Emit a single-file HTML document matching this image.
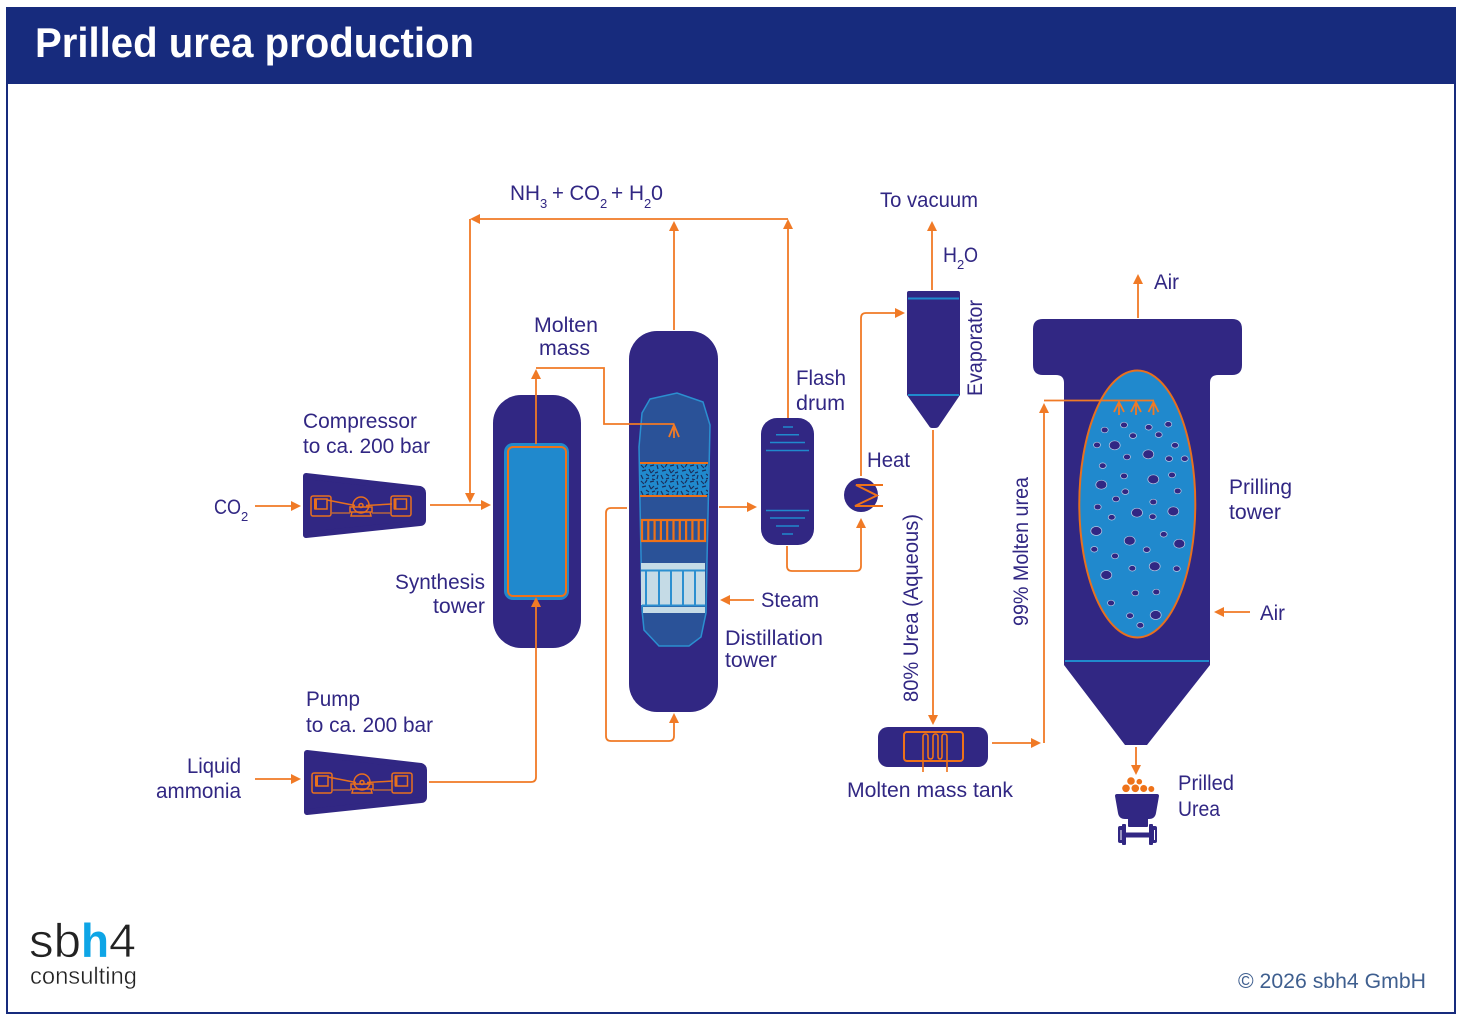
<!DOCTYPE html>
<html><head><meta charset="utf-8"><title>Prilled urea production</title>
<style>
html,body{margin:0;padding:0;background:#fff}
svg{display:block}
text{font-family:"Liberation Sans",sans-serif;font-size:21px;fill:#312783}
.s{font-size:13px}
.l{fill:none;stroke:#f07a26;stroke-width:1.8}
.a{fill:#f07a26;stroke:none}
.o{fill:none;stroke:#ee7219;stroke-width:2}
.b{fill:none;stroke:#2089cd;stroke-width:2}
</style></head><body>
<svg width="1462" height="1021" viewBox="0 0 1462 1021" xmlns="http://www.w3.org/2000/svg">
<defs>
<pattern id="pk" width="20" height="16" patternUnits="userSpaceOnUse">
<rect width="20" height="16" fill="#2089cd"/>
<path d="M1 1l3 3M7 0l-2 3M10 2l4-1M17 1l1 4M2 7l4-1M9 5l2 4M14 6l-3 3M18 8l-3 1M1 11l2 4M6 10l3 2M12 12l3-1M18 11l-1 4M6 15l3-1M12 15l3 1" stroke="#1b2f5c" stroke-width="1.200"/>
</pattern>
<g id="comp">
<path d="M306 476L420 489Q423 490 423 493V520Q423 523 420 523L306 535Z" fill="#312783" stroke="#312783" stroke-width="6" stroke-linejoin="round"/>
<g fill="none" stroke="#e8701e" stroke-width="1.500">
<rect x="311" y="496" width="20" height="20" rx="2"/>
<rect x="391" y="496" width="20" height="20" rx="2"/>
<rect x="315" y="499" width="12" height="10"/>
<rect x="394.500" y="499" width="12" height="10"/>
<circle cx="361" cy="505" r="8"/>
<circle cx="361" cy="505.500" r="2"/>
<path d="M327 500L355 505.500M366 505.500L392 504M350 507H372V512H350ZM352 512L351 516H371L370 512"/>
</g>
<path d="M331 513H350M372 513H391" stroke="#b5673f" stroke-width="1.500" fill="none"/>
<rect x="314" y="499" width="3" height="10" fill="#e8701e"/>
<rect x="393.500" y="499" width="3" height="10" fill="#e8701e"/>
</g>
</defs>

<rect width="1462" height="1021" fill="#fff"/>
<rect x="7" y="8" width="1448" height="1005" fill="#fff" stroke="#172b7d" stroke-width="2"/>
<rect x="6" y="7" width="1450" height="77" fill="#172b7d"/>
<text x="35" y="57" style="font-size:42px;font-weight:bold;fill:#fff" textLength="439" lengthAdjust="spacingAndGlyphs">Prilled urea production</text>

<!-- equipment -->
<rect x="493" y="395" width="88" height="253" rx="28" fill="#312783"/>
<rect x="504" y="443" width="65" height="157" rx="9" fill="#2089cd"/>
<rect x="508" y="447" width="58" height="149" rx="5" fill="#2089cd" stroke="#ee7219" stroke-width="2"/>

<rect x="629" y="331" width="89" height="381" rx="28" fill="#312783"/>
<polygon points="650,399 677,393 703,402 710,425 707,560 706,613 701,637 689,646 659,646 644,630 642,610 639,447 642,413" fill="#2a5298" stroke="#2b8fd0" stroke-width="1.500"/>
<rect x="640" y="464" width="68" height="32" fill="url(#pk)"/>
<path class="o" d="M640 463H708M640 496H707"/>
<rect x="642" y="520" width="63" height="21" fill="none" stroke="#ee7219" stroke-width="2.200"/>
<path stroke="#ee7219" stroke-width="2.200" d="M648.300 520V541M654.600 520V541M660.900 520V541M667.200 520V541M673.500 520V541M679.800 520V541M686.100 520V541M692.400 520V541M698.700 520V541"/>
<rect x="641" y="563" width="64" height="7" fill="#c5dbe6"/>
<rect x="641" y="571" width="64" height="34" fill="#c5dbe6"/>
<rect x="643" y="607" width="62" height="6" fill="#c5dbe6"/>
<path stroke="#2b8fd0" stroke-width="2" d="M641 570.500H705M646 571V605M659 571V605M671 571V605M683 571V605M695 571V605M642 605.500H705"/>

<rect x="761" y="418" width="53" height="127" rx="16" fill="#312783"/>
<path class="b" style="stroke-width:1.500" d="M783 427H793M776 434.700H799M770 442.500H805M766 450.500H809M766 510.500H809M770 518H805M776 526H799M782 534H793"/>

<circle cx="861" cy="495" r="17" fill="#312783"/>

<path d="M907 293Q907 291 909 291H958Q960 291 960 293V395L939 426Q938 428 935 428H932Q930 428 929 426L907 395Z" fill="#312783"/>
<path class="b" d="M908 298.500H959M908 395H959"/>

<rect x="878" y="727" width="110" height="40" rx="10" fill="#312783"/>
<rect x="904" y="732" width="59" height="29" rx="3" class="o"/>

<path d="M1043 319H1232Q1242 319 1242 329V365Q1242 375 1232 375H1218Q1210 375 1210 383V665L1147 745H1125L1064 665V383Q1064 375 1056 375H1043Q1033 375 1033 365V329Q1033 319 1043 319Z" fill="#312783"/>
<path class="b" d="M1065 661H1209"/>
<ellipse cx="1137.300" cy="504" rx="58" ry="133.500" fill="#2089cd" stroke="#e8701e" stroke-width="2"/>
<g fill="#312783" stroke="#b9c8e4" stroke-width="0.700">
<ellipse cx="1104.700" cy="430" rx="3.500" ry="2.800"/><ellipse cx="1124" cy="425" rx="3.500" ry="2.800"/><ellipse cx="1148.700" cy="427.300" rx="3.500" ry="2.800"/><ellipse cx="1168.300" cy="424.300" rx="3.500" ry="2.800"/><ellipse cx="1133" cy="435.700" rx="3.500" ry="2.800"/><ellipse cx="1158.700" cy="434.700" rx="3.500" ry="2.800"/><ellipse cx="1097" cy="445" rx="3.500" ry="2.800"/><ellipse cx="1114.700" cy="445.300" rx="5.500" ry="4.500"/><ellipse cx="1175" cy="445.300" rx="3.500" ry="2.800"/><ellipse cx="1127" cy="457" rx="3.500" ry="2.800"/><ellipse cx="1148.300" cy="454.300" rx="5.500" ry="4.500"/><ellipse cx="1169" cy="458.700" rx="3.500" ry="2.800"/><ellipse cx="1184.700" cy="458.700" rx="3.500" ry="2.800"/><ellipse cx="1102.700" cy="465.700" rx="3.500" ry="2.800"/><ellipse cx="1124" cy="476" rx="3.500" ry="2.800"/><ellipse cx="1172" cy="475" rx="3.500" ry="2.800"/><ellipse cx="1153.300" cy="479.300" rx="5.500" ry="4.500"/><ellipse cx="1101.300" cy="484.700" rx="5.500" ry="4.500"/><ellipse cx="1177.700" cy="491" rx="3.500" ry="2.800"/><ellipse cx="1125.300" cy="491.700" rx="3.500" ry="2.800"/><ellipse cx="1116" cy="499" rx="3.500" ry="2.800"/><ellipse cx="1153.300" cy="502" rx="3.500" ry="2.800"/><ellipse cx="1097.700" cy="507" rx="3.500" ry="2.800"/><ellipse cx="1111.700" cy="517.300" rx="3.500" ry="2.800"/><ellipse cx="1137" cy="512.700" rx="5.500" ry="4.500"/><ellipse cx="1152.700" cy="516.700" rx="3.500" ry="2.800"/><ellipse cx="1173.300" cy="511.300" rx="5.500" ry="4.500"/><ellipse cx="1096.300" cy="531" rx="5.500" ry="4.500"/><ellipse cx="1163.700" cy="534.300" rx="3.500" ry="2.800"/><ellipse cx="1129.700" cy="540.700" rx="5.500" ry="4.500"/><ellipse cx="1179.300" cy="543.700" rx="5.500" ry="4.500"/><ellipse cx="1094.300" cy="549.300" rx="3.500" ry="2.800"/><ellipse cx="1146.700" cy="549.700" rx="3.500" ry="2.800"/><ellipse cx="1115" cy="556" rx="3.500" ry="2.800"/><ellipse cx="1132.300" cy="568.300" rx="3.500" ry="2.800"/><ellipse cx="1154.700" cy="566.300" rx="5.500" ry="4.500"/><ellipse cx="1176.700" cy="568.700" rx="3.500" ry="2.800"/><ellipse cx="1106.300" cy="575" rx="5.500" ry="4.500"/><ellipse cx="1135.300" cy="593" rx="3.500" ry="2.800"/><ellipse cx="1156.300" cy="592" rx="3.500" ry="2.800"/><ellipse cx="1111" cy="603" rx="3.500" ry="2.800"/><ellipse cx="1130" cy="615.700" rx="3.500" ry="2.800"/><ellipse cx="1155.700" cy="615" rx="5.500" ry="4.500"/><ellipse cx="1140.300" cy="625.300" rx="3.500" ry="2.800"/>
</g>

<use href="#comp"/>
<use href="#comp" transform="translate(1 277)"/>

<!-- connectors (on top of equipment) -->
<path class="l" d="M255 506H293M430 505H483M788 219H478M470 219V495M674 330V230M788 418V228"/>
<path class="l" d="M536 444V378M536 368H604V424H674M674 438V425M669 437L674 425L679 437"/>
<path class="l" d="M255 779H293M429 782H531Q536 782 536 777V606"/>
<path class="l" d="M627 508H611Q606 508 606 513V736Q606 741 611 741H669Q674 741 674 736V722"/>
<path class="l" d="M719 507H749M754 600H729"/>
<path class="l" d="M787 546V566Q787 571 792 571H856Q861 571 861 566V526"/>
<path class="l" d="M861 476V318Q861 313 866 313H896"/>
<path class="l" d="M932 290V229M933 430V717"/>
<path class="l" d="M992 743H1033M1044 743V411M1138 318V283M1250 612H1223M1136 747V767"/>
<path class="l" d="M1044 400.500H1154M1119 415V402M1114 412L1119 402L1124 412M1136 415V402M1131 412L1136 402L1141 412M1153.500 415V402M1148.500 412L1153.500 402L1158.500 412"/>
<g class="a">
<polygon points="301,506 291,501 291,511"/>
<polygon points="491,505 481,500 481,510"/>
<polygon points="470,219 480,214 480,224"/>
<polygon points="470,503 465,493 475,493"/>
<polygon points="674,221 669,231 679,231"/>
<polygon points="788,219 783,229 793,229"/>
<polygon points="536,369 531,379 541,379"/>
<polygon points="301,779 291,774 291,784"/>
<polygon points="536,597 531,607 541,607"/>
<polygon points="674,713 669,723 679,723"/>
<polygon points="757,507 747,502 747,512"/>
<polygon points="720,600 730,595 730,605"/>
<polygon points="861,518 856,528 866,528"/>
<polygon points="905,313 895,308 895,318"/>
<polygon points="932,221 927,231 937,231"/>
<polygon points="933,725 928,715 938,715"/>
<polygon points="1041,743 1031,738 1031,748"/>
<polygon points="1044,403 1039,413 1049,413"/>
<polygon points="1138,274 1133,284 1143,284"/>
<polygon points="1214,612 1224,607 1224,617"/>
<polygon points="1136,775 1131,765 1141,765"/>
</g>

<!-- heat exchanger coil -->
<path class="o" d="M883 485H856L877 495.500L855 506H883"/>

<!-- tank coil -->
<path fill="none" stroke="#ee7219" stroke-width="1.600" d="M923 772V737Q923 734 925.500 734T928 737V756Q928 759 930.500 759T933 756V737Q933 734 935.500 734T938 737V756Q938 759 940 759T942 756V737Q942 734 944.500 734T947 737V772"/>

<!-- hopper -->
<g fill="#ee7219">
<circle cx="1131" cy="781" r="3.800"/><circle cx="1139.300" cy="781.700" r="2.800"/><circle cx="1126" cy="788.300" r="3.800"/><circle cx="1135.300" cy="788.300" r="3.800"/><circle cx="1143.700" cy="788.500" r="3.500"/><circle cx="1151.300" cy="789" r="3"/>
</g>
<path d="M1117 794H1157Q1159 794 1159 796L1156 813Q1155 819 1149 819H1148V826Q1148 827 1147 827H1129Q1128 827 1128 826V819H1125Q1119 819 1118 813L1115 796Q1115 794 1117 794Z" fill="#312783"/>
<g fill="#312783">
<rect x="1118" y="826" width="8" height="17" rx="2"/>
<rect x="1122" y="824" width="4" height="21" rx="1"/>
<rect x="1149" y="826" width="8" height="17" rx="2"/>
<rect x="1149" y="824" width="4" height="21" rx="1"/>
<rect x="1125" y="832.500" width="25" height="5"/>
</g>
<rect x="1120.500" y="830" width="1" height="10" fill="#fff"/>
<rect x="1154" y="830" width="1" height="10" fill="#fff"/>

<!-- labels -->
<text x="510" y="200" textLength="30" lengthAdjust="spacingAndGlyphs">NH</text><text x="540" y="208" class="s">3</text>
<text x="552" y="200" textLength="48" lengthAdjust="spacingAndGlyphs">+ CO</text><text x="600" y="208" class="s">2</text>
<text x="611" y="200" textLength="33" lengthAdjust="spacingAndGlyphs">+ H</text><text x="644" y="208" class="s">2</text>
<text x="651" y="200" textLength="12" lengthAdjust="spacingAndGlyphs">0</text>
<text x="880" y="207" textLength="98" lengthAdjust="spacingAndGlyphs">To vacuum</text>
<text x="943" y="262" textLength="14" lengthAdjust="spacingAndGlyphs">H</text><text x="957" y="269" class="s">2</text><text x="964" y="262" textLength="14" lengthAdjust="spacingAndGlyphs">O</text>
<text x="1154" y="289" textLength="25" lengthAdjust="spacingAndGlyphs">Air</text>
<text x="534" y="332" textLength="64" lengthAdjust="spacingAndGlyphs">Molten</text>
<text x="539" y="355" textLength="51" lengthAdjust="spacingAndGlyphs">mass</text>
<text x="796" y="385" textLength="50" lengthAdjust="spacingAndGlyphs">Flash</text>
<text x="796" y="410" textLength="49" lengthAdjust="spacingAndGlyphs">drum</text>
<text x="867" y="467" textLength="43" lengthAdjust="spacingAndGlyphs">Heat</text>
<text x="303" y="428" textLength="114" lengthAdjust="spacingAndGlyphs">Compressor</text>
<text x="303" y="453" textLength="127" lengthAdjust="spacingAndGlyphs">to ca. 200 bar</text>
<text x="214" y="514" textLength="27" lengthAdjust="spacingAndGlyphs">CO</text><text x="241" y="521" class="s">2</text>
<text x="395" y="589" textLength="90" lengthAdjust="spacingAndGlyphs">Synthesis</text>
<text x="433" y="613" textLength="52" lengthAdjust="spacingAndGlyphs">tower</text>
<text x="761" y="607" textLength="58" lengthAdjust="spacingAndGlyphs">Steam</text>
<text x="725" y="645" textLength="98" lengthAdjust="spacingAndGlyphs">Distillation</text>
<text x="725" y="667" textLength="52" lengthAdjust="spacingAndGlyphs">tower</text>
<text x="1229" y="494" textLength="63" lengthAdjust="spacingAndGlyphs">Prilling</text>
<text x="1229" y="519" textLength="52" lengthAdjust="spacingAndGlyphs">tower</text>
<text x="1260" y="620" textLength="25" lengthAdjust="spacingAndGlyphs">Air</text>
<text x="306" y="706" textLength="54" lengthAdjust="spacingAndGlyphs">Pump</text>
<text x="306" y="732" textLength="127" lengthAdjust="spacingAndGlyphs">to ca. 200 bar</text>
<text x="187" y="773" textLength="54" lengthAdjust="spacingAndGlyphs">Liquid</text>
<text x="156" y="798" textLength="85" lengthAdjust="spacingAndGlyphs">ammonia</text>
<text x="847" y="797" textLength="166" lengthAdjust="spacingAndGlyphs">Molten mass tank</text>
<text x="1178" y="790" textLength="56" lengthAdjust="spacingAndGlyphs">Prilled</text>
<text x="1178" y="816" textLength="42" lengthAdjust="spacingAndGlyphs">Urea</text>
<text transform="translate(982 396) rotate(-90)" textLength="96" lengthAdjust="spacingAndGlyphs">Evaporator</text>
<text transform="translate(918 702) rotate(-90)" textLength="188" lengthAdjust="spacingAndGlyphs">80% Urea (Aqueous)</text>
<text transform="translate(1028 626) rotate(-90)" textLength="149" lengthAdjust="spacingAndGlyphs">99% Molten urea</text>
<text x="1238" y="988" style="fill:#3f5f8f" textLength="188" lengthAdjust="spacingAndGlyphs">© 2026 sbh4 GmbH</text>

<!-- logo -->
<text x="29" y="957" style="font-size:47px;fill:#222;stroke:#fff;stroke-width:.7" textLength="52" lengthAdjust="spacingAndGlyphs">sb</text>
<text x="81" y="957" style="font-size:47px;font-weight:bold;fill:#0ea5e6" textLength="28" lengthAdjust="spacingAndGlyphs">h</text>
<text x="109" y="957" style="font-size:47px;fill:#222;stroke:#fff;stroke-width:.7" textLength="27" lengthAdjust="spacingAndGlyphs">4</text>
<text x="30" y="984" style="font-size:24px;fill:#222;stroke:#fff;stroke-width:.4" textLength="107" lengthAdjust="spacingAndGlyphs">consulting</text>
</svg>
</body></html>
